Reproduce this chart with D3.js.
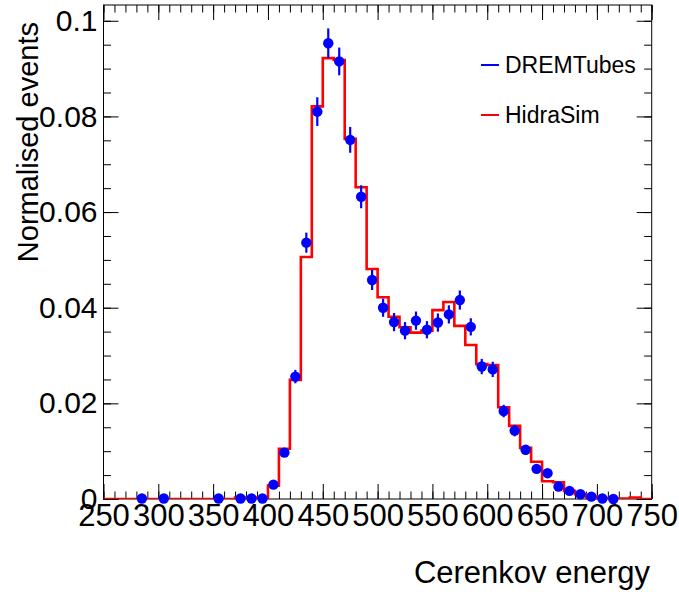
<html>
<head>
<script src="https://d3js.org/d3.v7.min.js" charset="utf-8"></script>
<style>
  body { margin: 0; background: #fff; }
  text { font-family: "Liberation Sans", Arial, sans-serif; }
</style>
</head>
<body>
<div id="graph"></div>
<script>
// histogram bins (left edges), width 10
const binEdges = d3.range(250, 750, 10);
const simValues = [
  0, 0, 0, 0, 0, 0, 0, 0, 0, 0, 0, 0,
  0.0003, 0.0003, 0.0003,
  0.0028, 0.0105, 0.0249, 0.0506, 0.0821, 0.0922, 0.0918, 0.0753, 0.0652, 0.0481,
  0.0422, 0.0381, 0.0359, 0.0348, 0.0352, 0.0395, 0.0412, 0.0362, 0.0322, 0.0282,
  0.0280, 0.0192, 0.0153, 0.0107, 0.0078, 0.0037, 0.0035, 0.0017, 0.0010, 0.0005,
  0.0002, 0.0001, 0.0001, 0.0003, 0
];

// data points (bin centres)
const dataX = [285, 305, 355, 375, 385, 395,
  405, 415, 425, 435, 445, 455, 465, 475, 485, 495,
  505, 515, 525, 535, 545, 555, 565, 575, 585, 595,
  605, 615, 625, 635, 645, 655, 665, 675, 685, 695, 705, 715];
const dataY = [0.0001, 0.0001, 0.0001, 0.0001, 0.0001, 0.0001,
  0.0030, 0.0097, 0.0256, 0.0536, 0.0810, 0.0953, 0.0915, 0.0751, 0.0632, 0.0458,
  0.0400, 0.0370, 0.0352, 0.0373, 0.0354, 0.0369, 0.0386, 0.0416, 0.0360, 0.0277,
  0.0271, 0.0184, 0.0143, 0.0103, 0.0063, 0.0054, 0.0026, 0.0017, 0.0010, 0.0005, 0.0001, 0.0000];
const dataErr = [0.0001, 0.0001, 0.0001, 0.0001, 0.0001, 0.0001,
  0.0005, 0.0009, 0.0014, 0.0021, 0.0030, 0.0031, 0.0029, 0.0027, 0.0024, 0.0021,
  0.0019, 0.0019, 0.0018, 0.0019, 0.0018, 0.0019, 0.0019, 0.0020, 0.0018, 0.0016,
  0.0016, 0.0013, 0.0012, 0.0010, 0.0008, 0.0007, 0.0005, 0.0004, 0.0003, 0.0002, 0.0001, 0.0001];

const xTicks = [250, 300, 350, 400, 450, 500, 550, 600, 650, 700, 750];
const xTickLabels = ["250", "300", "350", "400", "450", "500", "550", "600", "650", "700", "750"];
const yTicks = [0, 0.02, 0.04, 0.06, 0.08, 0.1];
const yTickLabels = ["0", "0.02", "0.04", "0.06", "0.08", "0.1"];
const legendNames = ["DREMTubes", "HidraSim"];
const legendColors = ["#0000ff", "#ff0000"];

const w = 679, h = 594;
const padL = 103.5, padR = 651.7, padT = 5, padB = 499;

const svg = d3.select('#graph').append('svg')
  .attr('width', w).attr('height', h);

const xScale = d3.scaleLinear().domain([250, 750]).range([padL, padR]);
const yScale = d3.scaleLinear().domain([0, 0.1033]).range([padB, padT]);

svg.append('defs').append('clipPath').attr('id', 'frame')
  .append('rect').attr('x', padL).attr('y', padT - 3)
  .attr('width', padR - padL).attr('height', padB - padT + 3);

// axes: major + minor ticks, pointing inwards on all four sides
function styleAxis(size) {
  return function(g) {
    g.select('.domain').remove();
    g.selectAll('line').attr('stroke', '#000').attr('stroke-width', 1);
    g.selectAll('text').attr('fill', '#000').style('font-size', size + 'px')
      .style('font-family', '"Liberation Sans", Arial, sans-serif');
  };
}

const labelMapX = d => xTickLabels[xTicks.indexOf(d)];
const labelMapY = d => yTickLabels[yTicks.indexOf(d)];

svg.append('g').attr('transform', 'translate(0,' + padB + ')')
  .call(d3.axisBottom(xScale).tickValues(xTicks).tickSize(-15).tickPadding(5).tickFormat(labelMapX))
  .call(styleAxis(31));
svg.append('g').attr('transform', 'translate(0,' + padB + ')')
  .call(d3.axisBottom(xScale).tickValues(d3.range(250, 751, 10)).tickSize(-7.5).tickFormat(''))
  .call(styleAxis(31));
svg.append('g').attr('transform', 'translate(0,' + padT + ')')
  .call(d3.axisTop(xScale).tickValues(xTicks).tickSize(-15).tickFormat(''))
  .call(styleAxis(31));
svg.append('g').attr('transform', 'translate(0,' + padT + ')')
  .call(d3.axisTop(xScale).tickValues(d3.range(250, 751, 10)).tickSize(-7.5).tickFormat(''))
  .call(styleAxis(31));

const yMinor = d3.range(0, 0.1031, 0.005);
svg.append('g').attr('transform', 'translate(' + padL + ',0)')
  .call(d3.axisLeft(yScale).tickValues(yTicks).tickSize(-15).tickPadding(6).tickFormat(labelMapY))
  .call(styleAxis(30));
svg.append('g').attr('transform', 'translate(' + padL + ',0)')
  .call(d3.axisLeft(yScale).tickValues(yMinor).tickSize(-7.5).tickFormat(''))
  .call(styleAxis(30));
svg.append('g').attr('transform', 'translate(' + padR + ',0)')
  .call(d3.axisRight(yScale).tickValues(yTicks).tickSize(-15).tickFormat(''))
  .call(styleAxis(30));
svg.append('g').attr('transform', 'translate(' + padR + ',0)')
  .call(d3.axisRight(yScale).tickValues(yMinor).tickSize(-7.5).tickFormat(''))
  .call(styleAxis(30));

// frame
svg.append('rect')
  .attr('x', padL).attr('y', padT)
  .attr('width', padR - padL).attr('height', padB - padT)
  .attr('fill', 'none').attr('stroke', '#000').attr('stroke-width', 1);

// simulation histogram
const steps = binEdges.map((e, i) => [e, simValues[i]]);
steps.push([750, simValues[simValues.length - 1]]);
const stepLine = d3.line()
  .x(d => xScale(d[0])).y(d => yScale(d[1]))
  .curve(d3.curveStepAfter);
svg.append('path')
  .datum(steps)
  .attr('d', stepLine)
  .attr('fill', 'none')
  .attr('stroke', '#ff0000')
  .attr('stroke-width', 2.6)
  .attr('clip-path', 'url(#frame)');

// data points with error bars
const pts = dataX.map((x, i) => ({x: x, y: dataY[i], e: dataErr[i]}));
const pg = svg.append('g');
pg.selectAll('line').data(pts).enter().append('line')
  .attr('x1', d => xScale(d.x)).attr('x2', d => xScale(d.x))
  .attr('y1', d => yScale(d.y - d.e)).attr('y2', d => yScale(d.y + d.e))
  .attr('stroke', '#0000ff').attr('stroke-width', 2.2);
pg.selectAll('circle').data(pts).enter().append('circle')
  .attr('cx', d => xScale(d.x)).attr('cy', d => yScale(d.y))
  .attr('r', 5.2).attr('fill', '#0000ff');

// axis titles
svg.append('text')
  .attr('transform', 'translate(38,22) rotate(-90)')
  .attr('text-anchor', 'end')
  .style('font-size', '29px')
  .text('Normalised events');
svg.append('text')
  .attr('x', 650).attr('y', 583)
  .attr('text-anchor', 'end')
  .style('font-size', '31px')
  .text('Cerenkov energy');

// legend
const legend = svg.append('g').selectAll('g')
  .data(legendNames).enter().append('g')
  .attr('transform', (d, i) => 'translate(0,' + (65 + i * 50) + ')');
legend.append('line')
  .attr('x1', 481).attr('x2', 499).attr('y1', 0).attr('y2', 0)
  .attr('stroke', (d, i) => legendColors[i]).attr('stroke-width', 2);
legend.append('text')
  .attr('x', 505).attr('y', 0).attr('dy', '0.35em')
  .style('font-size', '23px')
  .text(d => d);
</script>
</body>
</html>
